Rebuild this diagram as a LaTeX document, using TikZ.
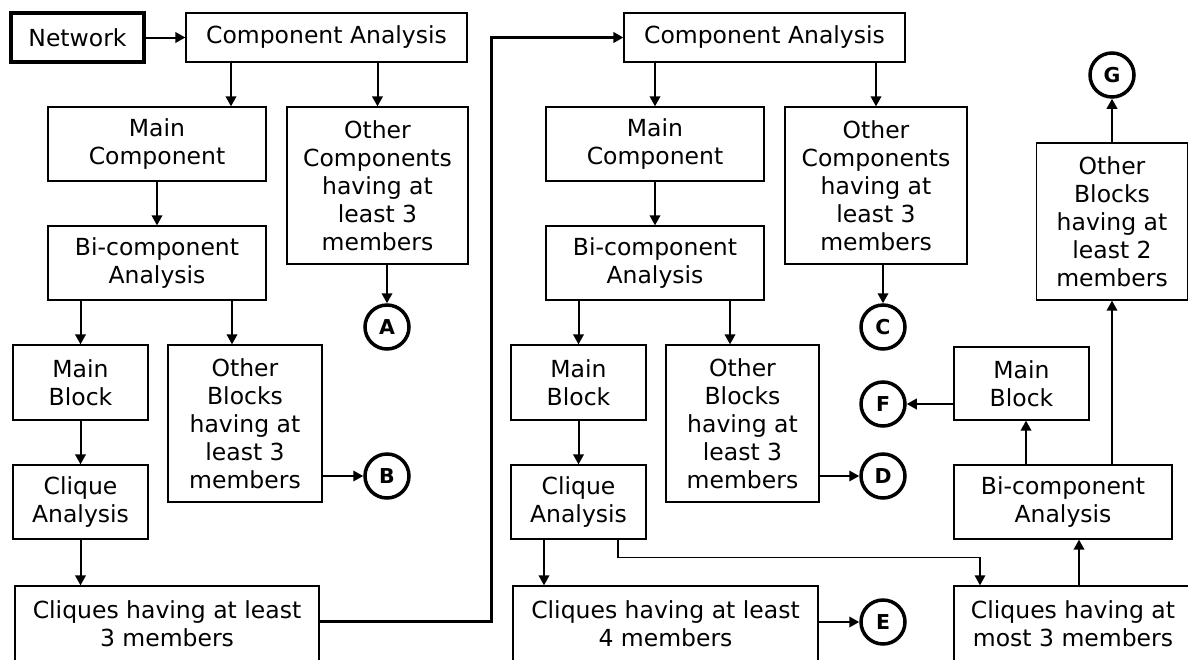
\documentclass[tikz,border=0pt]{standalone}
\usepackage{fontspec}
\setmainfont{DejaVu Sans}
\usetikzlibrary{arrows.meta,calc}
\begin{document}
\begin{tikzpicture}[x=1pt,y=-1pt,
  box/.style={draw=black,line width=1.3pt,inner sep=0pt,align=center,
    font=\fontsize{23.5}{28}\selectfont},
  netbox/.style={box,line width=3.5pt},
  tag/.style={circle,draw=black,line width=3.5pt,minimum size=44pt,inner sep=0pt,
    font=\fontsize{20.5}{24}\selectfont\bfseries},
  tip/.style={-{Triangle[length=10pt,width=10.5pt]}},
  arr/.style={tip,line width=2pt},
  thinarr/.style={tip,line width=1.4pt},
  looparr/.style={tip,line width=3pt},
]
\useasboundingbox (0,0) rectangle (1188,659);
\clip (0,0) rectangle (1188,659);

% ---- first pass ----
\node[netbox,minimum width=133pt,minimum height=49pt] (net) at (77.5,37.5) {Network};
\node[box,minimum width=281pt,minimum height=49pt] (ca1) at (326.5,37.5) {Component Analysis};
\node[box,minimum width=218pt,minimum height=74pt] (mc1) at (157,144) {Main\\Component};
\node[box,minimum width=181pt,minimum height=157pt] (oc1) at (377.5,185.5) {Other\\Components\\having at\\least 3\\members};
\node[box,minimum width=218pt,minimum height=74pt] (bc1) at (157,263) {Bi-component\\Analysis};
\node[box,minimum width=135pt,minimum height=75pt] (mb1) at (80.5,382.5) {Main\\Block};
\node[box,minimum width=154pt,minimum height=157pt] (ob1) at (245,423.5) {Other\\Blocks\\having at\\least 3\\members};
\node[box,minimum width=135pt,minimum height=74pt] (cl1) at (80.5,502) {Clique\\Analysis};
\node[box,minimum width=304pt,minimum height=76pt] (cq1) at (167,624) {Cliques having at least\\3 members};
\node[tag] (A) at (387,327) {A};
\node[tag] (B) at (387,476) {B};

% ---- second pass ----
\node[box,minimum width=281pt,minimum height=49pt] (ca2) at (764.5,37.5) {Component Analysis};
\node[box,minimum width=218pt,minimum height=74pt] (mc2) at (655,144) {Main\\Component};
\node[box,minimum width=182pt,minimum height=157pt] (oc2) at (876,185.5) {Other\\Components\\having at\\least 3\\members};
\node[box,minimum width=218pt,minimum height=74pt] (bc2) at (655,263) {Bi-component\\Analysis};
\node[box,minimum width=135pt,minimum height=75pt] (mb2) at (578.5,382.5) {Main\\Block};
\node[box,minimum width=153pt,minimum height=157pt] (ob2) at (742.5,423.5) {Other\\Blocks\\having at\\least 3\\members};
\node[box,minimum width=135pt,minimum height=74pt] (cl2) at (578.5,502) {Clique\\Analysis};
\node[box,minimum width=305pt,minimum height=76pt] (cq2) at (665.5,624) {Cliques having at least\\4 members};
\node[tag] (C) at (883,327) {C};
\node[tag] (F) at (883,404) {F};
\node[tag] (D) at (883,476) {D};
\node[tag] (E) at (883,622) {E};

% ---- small cliques ----
\node[box,minimum width=238pt,minimum height=76pt] (cq3) at (1073,624) {Cliques having at\\most 3 members};
\node[box,minimum width=218pt,minimum height=74pt] (bc3) at (1063,502) {Bi-component\\Analysis};
\node[box,minimum width=135pt,minimum height=73pt] (mb3) at (1021.5,383.5) {Main\\Block};
\node[box,minimum width=151pt,minimum height=157pt] (ob3) at (1112,221.5) {Other\\Blocks\\having at\\least 2\\members};
\node[tag] (G) at (1112,75) {G};

% ---- connectors, first pass ----
\draw[arr] (net.east) -- (ca1.west);
\draw[arr] ($(ca1.south)+(-95.5,0)$) -- ($(mc1.north)+(74,0)$);
\draw[arr] (ca1.south -| oc1.north) -- (oc1.north);
\draw[arr] (mc1.south) -- (bc1.north);
\draw[arr] (bc1.south -| mb1.north) -- (mb1.north);
\draw[arr] ($(bc1.south)+(75,0)$) -- ($(ob1.north)+(-13,0)$);
\draw[arr] (A.north |- oc1.south) -- (A.north);
\draw[arr] (B.west -| ob1.east) -- (B.west);
\draw[arr] (mb1.south) -- (cl1.north);
\draw[arr] (cl1.south) -- (cl1.south |- cq1.north);
\draw[looparr] ($(cq1.east)+(0,-3)$) -- ++(172,0) |- (ca2.west);

% ---- connectors, second pass ----
\draw[arr] (ca2.south -| mc2.north) -- (mc2.north);
\draw[arr] (ca2.south -| oc2.north) -- (oc2.north);
\draw[arr] (mc2.south) -- (bc2.north);
\draw[arr] (bc2.south -| mb2.north) -- (mb2.north);
\draw[arr] ($(bc2.south)+(75,0)$) -- ($(ob2.north)+(-12.5,0)$);
\draw[arr] (C.north |- oc2.south) -- (C.north);
\draw[arr] (D.west -| ob2.east) -- (D.west);
\draw[arr] (mb2.south) -- (cl2.north);
\draw[arr] ($(cl2.south)+(-34.5,0)$) -- ($(cq2.north)+(-121.5,0)$);
\draw[arr] (E.west -| cq2.east) -- (E.west);
\draw[thinarr] ($(cl2.south)+(39.5,0)$) -- ++(0,18) -| ($(cq3.north)+(-93,0)$);

% ---- connectors, small cliques ----
\draw[arr] ($(cq3.north)+(6,0)$) -- ($(bc3.south)+(16,0)$);
\draw[arr] ($(bc3.north)+(-37,0)$) -- ($(mb3.south)+(4.5,0)$);
\draw[arr] (F.east -| mb3.west) -- (F.east);
\draw[arr] (bc3.north -| ob3.south) -- (ob3.south);
\draw[arr] (ob3.north) -- (G.south);
\end{tikzpicture}
\end{document}
